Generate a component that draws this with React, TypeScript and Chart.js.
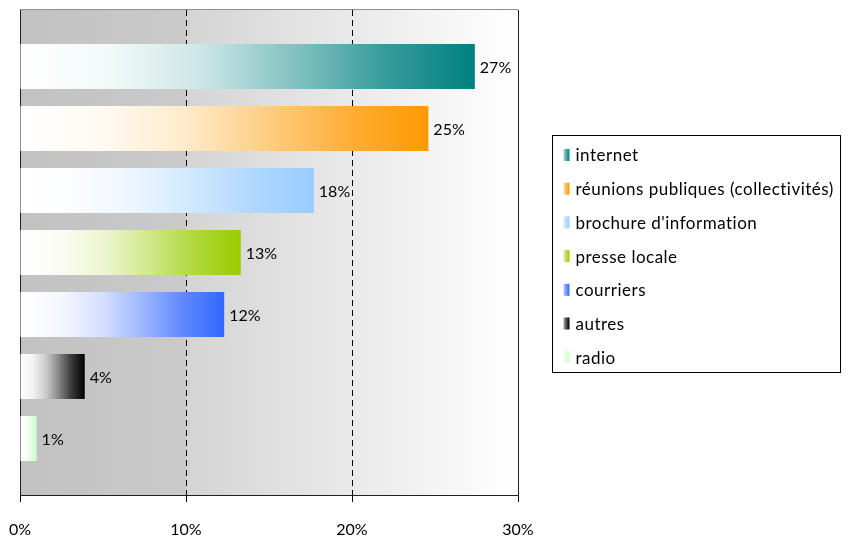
import React, { useEffect, useRef } from 'react';
import { Chart, registerables } from 'chart.js';

Chart.register(...registerables);

const categories = [
  'internet',
  'réunions publiques (collectivités)',
  "brochure d'information",
  'presse locale',
  'courriers',
  'autres',
  'radio',
];
const values = [27.4, 24.6, 17.7, 13.3, 12.3, 3.9, 1.0];
const valueLabels = ['27%', '25%', '18%', '13%', '12%', '4%', '1%'];
const colors = ['#008080', '#ff9900', '#99ccff', '#99cc00', '#3366ff', '#000000', '#ccffcc'];
const xTicks = [0, 10, 20, 30];

const FONT = 'Lato, "Noto Sans", sans-serif';

function hexRgb(hex: string) {
  const h = hex.replace('#', '');
  return [0, 2, 4].map((i) => parseInt(h.slice(i, i + 2), 16));
}
function mix(hex: string, t: number) {
  const [r, g, b] = hexRgb(hex);
  const f = (c: number) => Math.round(255 + (c - 255) * t);
  return `rgb(${f(r)},${f(g)},${f(b)})`;
}
const STOPS: [number, number][] = [
  [0, 0],
  [0.2, 0.05],
  [0.4, 0.2],
  [0.6, 0.48],
  [0.8, 0.78],
  [1, 1],
];
function makeGrad(ctx: CanvasRenderingContext2D, x0: number, x1: number, color: string) {
  const g = ctx.createLinearGradient(x0, 0, Math.max(x1, x0 + 1), 0);
  STOPS.forEach(([p, t]) => g.addColorStop(p, mix(color, t)));
  return g;
}

const decor = {
  id: 'decor',
  beforeDraw(chart: any) {
    const { ctx, chartArea: a } = chart;
    if (!a) return;
    ctx.save();
    const g = ctx.createLinearGradient(a.left, 0, a.right, 0);
    g.addColorStop(0, '#c2c2c2');
    g.addColorStop(0.333, '#cacaca');
    g.addColorStop(0.335, '#d4d4d4');
    g.addColorStop(1, '#ffffff');
    ctx.fillStyle = g;
    ctx.fillRect(a.left, a.top, a.right - a.left, a.bottom - a.top);
    ctx.restore();
  },
  beforeDatasetsDraw(chart: any) {
    const { ctx, chartArea: a } = chart;
    ctx.save();
    ctx.lineWidth = 1;
    ctx.strokeStyle = '#909090';
    ctx.beginPath();
    ctx.moveTo(a.left, a.top - 0.5);
    ctx.lineTo(a.right, a.top - 0.5);
    ctx.stroke();
    ctx.strokeStyle = '#202020';
    ctx.beginPath();
    ctx.moveTo(Math.round(a.left) + 0.5, a.top);
    ctx.lineTo(Math.round(a.left) + 0.5, a.bottom);
    ctx.moveTo(Math.round(a.right) + 0.5, a.top);
    ctx.lineTo(Math.round(a.right) + 0.5, a.bottom);
    ctx.moveTo(a.left, Math.round(a.bottom) + 0.5);
    ctx.lineTo(a.right + 1, Math.round(a.bottom) + 0.5);
    ctx.stroke();
    ctx.restore();
  },
  afterDatasetsDraw(chart: any) {
    const { ctx } = chart;
    ctx.save();
    ctx.font = `16px ${FONT}`;
    ctx.fillStyle = '#000';
    ctx.textBaseline = 'middle';
    ctx.textAlign = 'left';
    chart.data.datasets.forEach((_d: any, i: number) => {
      const el = chart.getDatasetMeta(i).data[0];
      if (!el) return;
      ctx.fillText(valueLabels[i], el.x + 5, el.y + 1);
    });
    ctx.restore();
  },
  afterDraw(chart: any) {
    const { ctx, chartArea: a } = chart;
    const left = Math.round(a.right) + 34.5;
    const top = 135.5;
    const w = 288;
    const h = 237;
    const step = 33.7;
    ctx.save();
    ctx.fillStyle = '#ffffff';
    ctx.fillRect(left, top, w, h);
    ctx.strokeStyle = '#000';
    ctx.lineWidth = 1;
    ctx.strokeRect(left, top, w, h);
    ctx.font = `17px ${FONT}`;
    try {
      (ctx as any).letterSpacing = '0.5px';
    } catch (e) {
      /* ignore */
    }
    ctx.textBaseline = 'middle';
    ctx.textAlign = 'left';
    categories.forEach((label, i) => {
      const cy = top + 19.5 + i * step;
      const sx = left + 11;
      ctx.fillStyle = makeGrad(ctx, sx - 6, sx + 6, colors[i]);
      ctx.fillRect(sx, cy - 6, 6, 12);
      ctx.fillStyle = '#000';
      ctx.fillText(label, sx + 12, cy + 1);
    });
    ctx.restore();
  },
};

export default function App() {
  const ref = useRef<HTMLCanvasElement>(null);
  useEffect(() => {
    if (!ref.current) return;
    const chart = new Chart(ref.current, {
      type: 'bar',
      data: {
        labels: [''],
        datasets: categories.map((label, i) => ({
          label,
          data: [values[i]],
          borderWidth: 0,
          categoryPercentage: 0.895,
          barPercentage: 0.726,
          backgroundColor: (c: any) => {
            const ch = c.chart;
            const xs = ch.scales && ch.scales.x;
            if (!ch.chartArea || !xs || c.dataIndex === undefined) return colors[i];
            const v = c.dataset.data[c.dataIndex];
            return makeGrad(ch.ctx, xs.getPixelForValue(0), xs.getPixelForValue(v), colors[i]);
          },
        })),
      },
      options: {
        indexAxis: 'y',
        responsive: false,
        animation: false,
        layout: { padding: { left: 20, right: 332, top: 10, bottom: 0 } },
        plugins: { legend: { display: false }, tooltip: { enabled: false } },
        scales: {
          y: { display: false },
          x: {
            min: xTicks[0],
            max: xTicks[xTicks.length - 1],
            afterBuildTicks: (s: any) => {
              s.ticks = xTicks.map((v) => ({ value: v }));
            },
            afterFit: (s: any) => {
              s.height = 46;
              s.paddingLeft = 0;
              s.paddingRight = 0;
            },
            border: { display: false, dash: [6, 4] },
            grid: {
              color: (c: any) =>
                c.tick && c.tick.value > xTicks[0] && c.tick.value < xTicks[xTicks.length - 1]
                  ? '#000'
                  : 'rgba(0,0,0,0)',
              tickColor: '#000',
              tickLength: 7,
              lineWidth: 1,
            },
            ticks: {
              padding: 18,
              color: '#000',
              font: { family: FONT, size: 16 },
              callback: (v: any) => `${v}%`,
            },
          },
        },
      },
      plugins: [decor],
    } as any);
    return () => chart.destroy();
  }, []);
  return (
    <div style={{ position: 'fixed', left: 0, top: 0, width: 850, height: 541, background: '#fff' }}>
      <canvas ref={ref} width={850} height={541} style={{ display: 'block' }} />
    </div>
  );
}
